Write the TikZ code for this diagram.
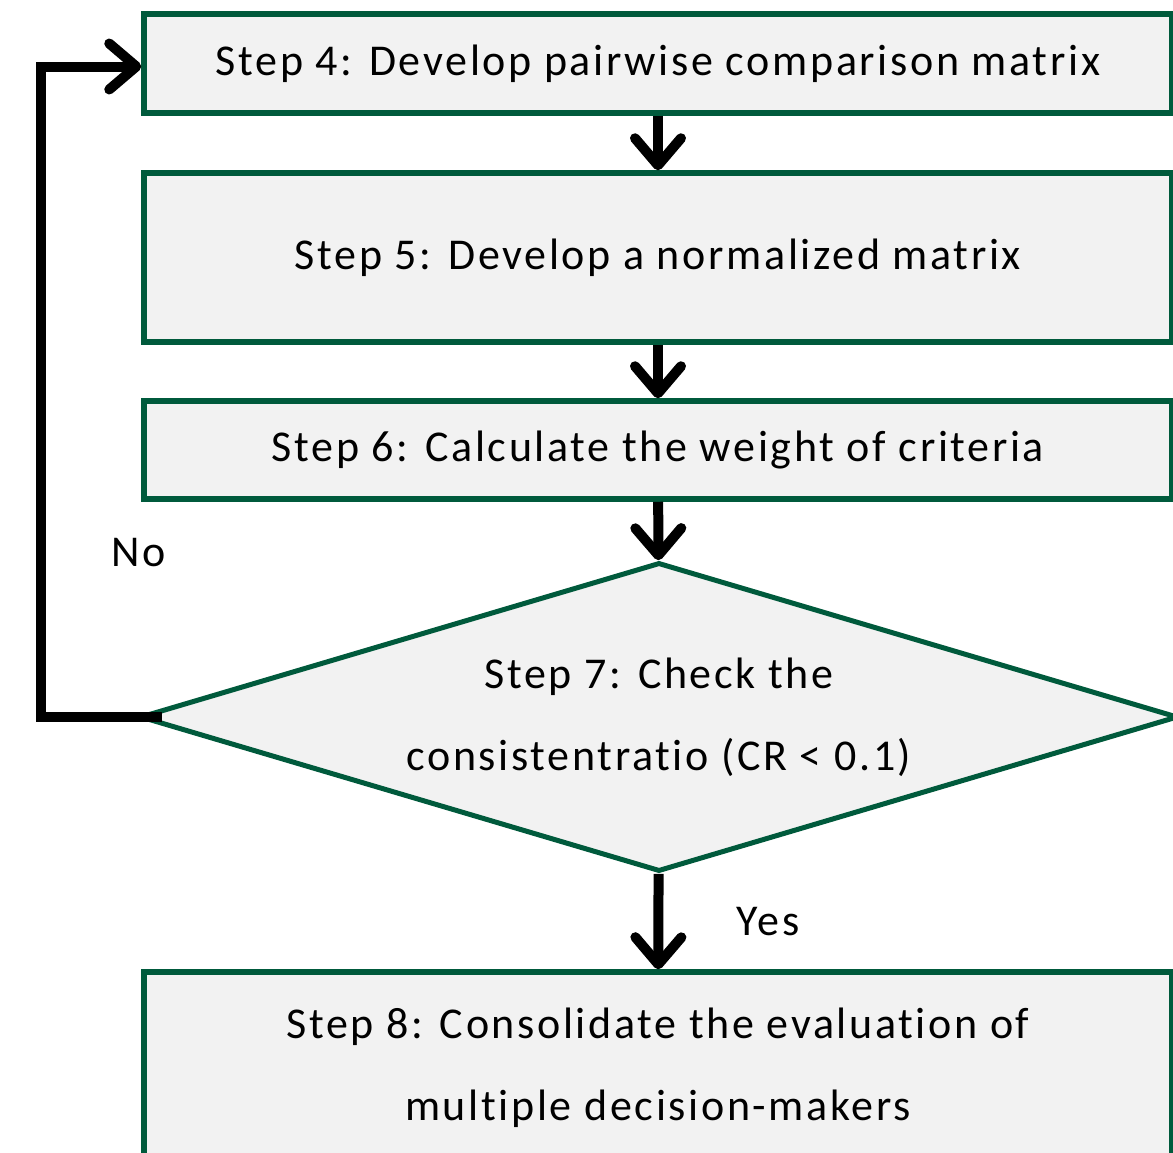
\documentclass[tikz,border=0pt]{standalone}
\usepackage{fontspec}
\setmainfont{Carlito}[LetterSpace=6, Ligatures=NoCommon]
\usetikzlibrary{shapes.geometric, arrows.meta}

\definecolor{boxgreen}{RGB}{0,90,60}
\definecolor{boxfill}{RGB}{242,242,242}

\begin{document}
\begin{tikzpicture}[x=1pt, y=-1pt,
        txt/.style={font=\fontsize{44}{82}\selectfont, align=center},
        stepbox/.style={txt, rectangle, draw=boxgreen, fill=boxfill, line width=5.5pt, minimum width=1028pt, inner sep=0pt},
        checkbox/.style={txt, diamond, aspect=3.36, draw=boxgreen, fill=boxfill, line width=5pt, minimum width=1038pt, minimum height=309pt, inner sep=0pt},
        flow/.style={line width=10pt, -{Straight Barb[length=27pt, width=46pt, round]}}]
        \useasboundingbox (0, 0) rectangle (1173, 1152);

        % Steps of the procedure
        \node[stepbox, minimum height=99pt] (s4) at (658, 63.5) {Step 4: Develop pairwise comparison matrix};
        \node[stepbox, minimum height=169pt] (s5) at (658, 257.5) {Step 5: Develop a normalized matrix};
        \node[stepbox, minimum height=98pt] (s6) at (658, 450) {Step 6: Calculate the weight of criteria};
        \node[checkbox] (chk) at (659, 717) {Step 7: Check the\\consistentratio (CR < 0.1)};
        \node[stepbox, minimum height=192pt] (s8) at (658, 1068) {Step 8: Consolidate the evaluation of\\multiple decision-makers};

        % Going down
        \draw[flow] (s4) -- (s5);
        \draw[flow] (s5) -- (s6);
        \draw[flow] (s6) -- (chk);
        \draw[flow] (chk) -- (s8) node[txt, midway, right=70pt] (yes) {Yes};

        % Going back when the check fails
        \coordinate (back) at (41, 0);
        \draw[flow] ([xshift=24pt]chk.west) -- (chk.west -| back) |- ([yshift=-3pt]s4.west);
        \node[txt] (no) at (139, 553) {No};
    \end{tikzpicture}
\end{document}
